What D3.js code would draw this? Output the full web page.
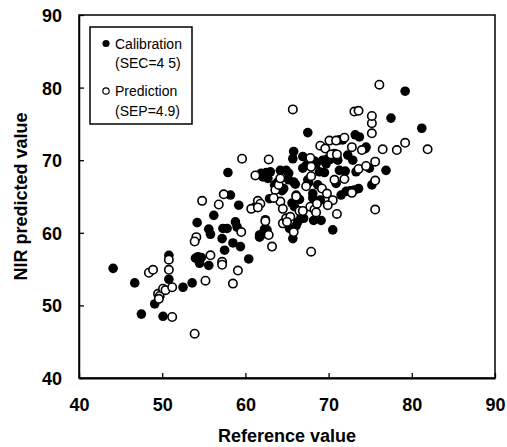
<!DOCTYPE html>
<html>
<head>
<meta charset="utf-8">
<script src="https://cdn.jsdelivr.net/npm/d3@7/dist/d3.min.js"></script>
<style>
  body { margin: 0; background: #fff; }
  svg { display: block; }
  text { font-family: "Liberation Sans", Arial, sans-serif; fill: #000; }
</style>
</head>
<body>
<svg id="chart" width="507" height="447"></svg>
<script>
const xTicks = [40, 50, 60, 70, 80, 90];
const yTicks = [40, 50, 60, 70, 80, 90];
const legendLabels = [["Calibration", "(SEC=4 5)"], ["Prediction", "(SEP=4.9)"]];

const calibration = [
[44.1,55.1],[46.7,53.1],[47.5,48.8],[49.1,50.2],[50.1,48.5],[50.8,56.9],[50.8,53.6],[52.5,52.5],[53.6,53.1],
[54.2,61.4],[54.3,56.7],[54.7,56.6],[54.0,56.5],[54.5,55.8],[55.6,55.5],[55.6,60.5],[55.8,59.8],[56.2,62.4],
[57.3,60.6],[57.8,60.6],[57.2,59.2],[57.5,57.6],[57.9,68.3],[58.2,65.2],[58.5,58.6],[58.8,61.5],[59.0,60.8],
[59.2,63.8],[59.4,58.1],[60.4,56.4],[61.1,63.5],[61.7,59.7],[62.3,60.5],[62.4,61.8],[62.1,67.7],[62.5,68.3],
[62.7,67.5],[62.9,64.7],[63.0,68.4],[63.9,67.0],[64.2,68.6],[64.6,66.1],[64.9,68.6],[65.2,67.3],[65.6,64.1],
[65.3,60.6],[65.7,59.2],[65.8,71.2],[65.7,70.2],[65.8,67.0],[66.1,65.2],[66.1,61.0],[66.5,64.6],[66.7,62.2],
[66.9,70.5],[66.9,68.9],[67.3,69.3],[67.5,73.8],[67.5,67.3],[68.1,65.4],[68.2,61.7],[68.5,69.5],[68.7,66.6],
[68.9,68.4],[69.0,64.5],[69.1,61.7],[69.3,70.0],[69.7,69.5],[69.9,70.2],[70.5,60.4],[70.7,70.9],[70.9,66.8],
[71.1,70.0],[71.3,68.6],[71.3,72.8],[71.7,72.8],[71.5,65.2],[72.1,65.7],[72.3,70.7],[72.9,70.0],[73.1,65.9],
[73.2,73.5],[73.3,68.4],[73.7,73.2],[74.5,71.8],[74.4,71.6],[74.9,68.9],[75.2,66.6],[76.9,68.6],[77.5,75.8],
[79.2,79.5],[81.2,74.4],[61.9,68.2],[62.0,59.8],[62.6,60.4],[61.7,59.4],[65.9,63.6],[66.3,61.5],[67.0,62.0],
[68.1,64.8],[72.6,65.8],[70.2,70.1],[71.0,70.3],[64.4,65.8],[65.2,68.2],[66.0,66.7],[67.6,66.9],[68.3,69.9],
[67.8,70.0],[73.6,66.1],[72.0,68.5],[69.5,68.3],[63.5,66.6]
];

const prediction = [
[48.4,54.5],[48.9,54.9],[49.5,51.6],[49.7,51.3],[49.6,50.9],[50.1,52.3],[50.4,52.1],[51.2,52.5],[50.8,54.9],
[50.8,56.3],[51.2,48.4],[53.9,46.1],[54.1,59.4],[53.9,58.8],[54.8,64.4],[55.2,53.4],[55.8,56.9],[56.8,63.9],
[57.4,65.3],[57.2,56.0],[57.2,55.6],[58.5,53.0],[59.1,54.8],[59.5,60.1],[59.6,70.2],[61.2,67.9],[61.5,64.4],
[61.8,64.0],[60.7,63.3],[62.8,70.1],[62.4,61.6],[62.8,59.7],[63.2,58.1],[63.6,65.9],[64.0,66.6],[64.2,67.5],
[64.2,64.3],[64.5,63.3],[64.5,61.3],[64.9,62.0],[65.4,62.2],[65.7,77.0],[65.8,60.1],[66.1,65.0],[66.5,63.0],
[66.9,63.0],[67.3,66.4],[67.8,70.3],[67.9,69.1],[67.9,67.8],[67.9,57.4],[67.8,63.6],[68.3,63.2],[68.6,64.0],
[69.0,72.0],[69.2,66.1],[69.6,71.6],[69.8,65.4],[70.5,64.5],[69.9,63.8],[70.3,70.8],[71.0,70.8],[70.7,67.3],
[70.1,72.7],[70.9,72.7],[71.9,73.1],[71.0,62.6],[71.9,67.4],[72.8,71.8],[72.8,65.5],[73.1,76.7],[73.6,76.8],
[73.6,68.8],[74.0,71.4],[74.5,69.2],[75.2,73.7],[75.2,75.1],[75.2,76.1],[75.6,69.8],[75.6,67.2],[75.6,63.2],
[76.1,80.4],[76.5,71.5],[78.2,71.4],[79.2,72.4],[81.9,71.5],[63.4,64.8],[61.5,63.5],[65.0,61.5],[68.5,62.8]
];

const svg = d3.select("#chart");
const m = { left: 79, right: 495, top: 15, bottom: 378 };

const x = d3.scaleLinear().domain([40, 90]).range([m.left, m.right]);
const y = d3.scaleLinear().domain([40, 90]).range([m.bottom, m.top]);

// frame
svg.append("rect")
  .attr("x", m.left).attr("y", m.top)
  .attr("width", m.right - m.left).attr("height", m.bottom - m.top)
  .attr("fill", "none").attr("stroke", "#000").attr("stroke-width", 1.5);

// bottom axis (ticks inward)
const xAxis = svg.append("g")
  .attr("transform", `translate(0,${m.bottom})`)
  .call(d3.axisBottom(x).tickValues(xTicks).tickSizeInner(-5).tickSizeOuter(0).tickPadding(0).tickFormat(d3.format("d")));
xAxis.select(".domain").attr("stroke-width", 2);
xAxis.selectAll(".tick line").attr("stroke-width", 1.3);
xAxis.selectAll(".tick text")
  .attr("y", 33).attr("dy", 0)
  .style("font-size", "18px").style("font-weight", "bold")
  .style("font-family", "'Liberation Sans', Arial, sans-serif");

// left axis
const yAxis = svg.append("g")
  .attr("transform", `translate(${m.left},0)`)
  .call(d3.axisLeft(y).tickValues(yTicks).tickSizeInner(-5).tickSizeOuter(0).tickPadding(0).tickFormat(d3.format("d")));
yAxis.select(".domain").attr("stroke-width", 1.5);
yAxis.selectAll(".tick line").attr("stroke-width", 1.3);
yAxis.selectAll(".tick text")
  .attr("x", -17).attr("dy", "0.36em")
  .style("font-size", "18px").style("font-weight", "bold")
  .style("font-family", "'Liberation Sans', Arial, sans-serif");

// points
const r = 4.2;
svg.append("g").selectAll("circle.cal").data(calibration).join("circle")
  .attr("cx", d => x(d[0])).attr("cy", d => y(d[1])).attr("r", r + 0.6)
  .attr("fill", "#000");
svg.append("g").selectAll("circle.pred").data(prediction).join("circle")
  .attr("cx", d => x(d[0])).attr("cy", d => y(d[1])).attr("r", r)
  .attr("fill", "#fff").attr("stroke", "#000").attr("stroke-width", 1.6);

// legend
svg.append("rect")
  .attr("x", 90).attr("y", 27).attr("width", 102).attr("height", 97)
  .attr("fill", "#fff").attr("stroke", "#000").attr("stroke-width", 1.5);
const lg = svg.append("g");
const rows = [43.5, 91];
lg.append("circle").attr("cx", 106).attr("cy", rows[0]).attr("r", 3.6).attr("fill", "#000");
lg.append("circle").attr("cx", 106).attr("cy", rows[1]).attr("r", 3.2)
  .attr("fill", "#fff").attr("stroke", "#000").attr("stroke-width", 1.2);
legendLabels.forEach((lab, i) => {
  lg.append("text").attr("x", 115).attr("y", rows[i] + 5).style("font-size", "14px").text(lab[0]);
  lg.append("text").attr("x", 115).attr("y", rows[i] + 24.5).style("font-size", "14px").text(lab[1]);
});

// axis titles
svg.append("text")
  .attr("x", (m.left + m.right) / 2).attr("y", 442)
  .attr("text-anchor", "middle")
  .style("font-size", "18px").style("font-weight", "bold")
  .text("Reference value");
svg.append("text")
  .attr("transform", `translate(27,${(m.top + m.bottom) / 2}) rotate(-90)`)
  .attr("text-anchor", "middle")
  .style("font-size", "18px").style("font-weight", "bold")
  .text("NIR predicted value");
</script>
</body>
</html>
